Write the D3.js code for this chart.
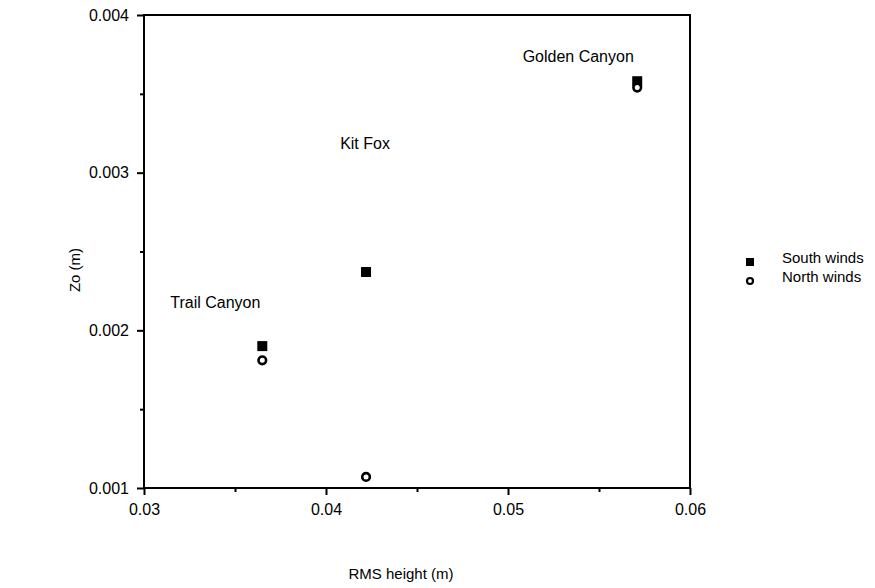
<!DOCTYPE html>
<html>
<head>
<meta charset="utf-8">
<script src="https://cdn.jsdelivr.net/npm/d3@7"></script>
<style>
  html, body { margin: 0; padding: 0; background: #fff; }
  svg { display: block; font-family: "Liberation Sans", Arial, Helvetica, sans-serif; }
</style>
</head>
<body>
<svg id="chart" width="875" height="588"></svg>
<script>
// ---- data ----
const sites = ["Trail Canyon", "Kit Fox", "Golden Canyon"];
const rmsHeight = [0.0365, 0.0422, 0.0571];
const southZo = [0.00190, 0.00237, 0.00358];
const northZo = [0.00181, 0.00107, 0.00354];
const xTicks = [0.03, 0.04, 0.05, 0.06];
const xMinorTicks = [0.035, 0.045, 0.055];
const yTicks = [0.001, 0.002, 0.003, 0.004];
const yMinorTicks = [0.0015, 0.0025, 0.0035];
const seriesNames = ["South winds", "North winds"];

(function () {
// ---- layout ----
const svg = d3.select("#chart");
const pL = 144, pR = 690, pT = 15, pB = 488;
const x = d3.scaleLinear().domain([0.03, 0.06]).range([pL, pR]);
const y = d3.scaleLinear().domain([0.001, 0.004]).range([pB, pT]);
const fs = 16;

// label offsets relative to the south-wind marker
const labelOffsets = [[-47, -38], [-1, -123], [-59, -19]];

// frame
svg.append("rect")
  .attr("x", pL).attr("y", pT)
  .attr("width", pR - pL).attr("height", pB - pT)
  .attr("fill", "none").attr("stroke", "#000").attr("stroke-width", 2);

// x axis
const xAxis = d3.axisBottom(x).tickValues(xTicks).tickFormat(d3.format(".2f"))
  .tickSize(7).tickPadding(9);
const gx = svg.append("g").attr("transform", `translate(0,${pB})`).call(xAxis);
gx.select(".domain").remove();
gx.selectAll(".tick line").attr("stroke-width", 2);
gx.selectAll("text").attr("font-size", fs).attr("font-family", "Liberation Sans, Arial, sans-serif").attr("fill", "#000");

const xMinor = d3.axisBottom(x).tickValues(xMinorTicks).tickFormat("").tickSize(4);
const gxm = svg.append("g").attr("transform", `translate(0,${pB})`).call(xMinor);
gxm.select(".domain").remove();
gxm.selectAll(".tick line").attr("stroke-width", 2);

// y axis
const yAxis = d3.axisLeft(y).tickValues(yTicks).tickFormat(d3.format(".3f"))
  .tickSize(7).tickPadding(8);
const gy = svg.append("g").attr("transform", `translate(${pL},0)`).call(yAxis);
gy.select(".domain").remove();
gy.selectAll(".tick line").attr("stroke-width", 2);
gy.selectAll("text").attr("font-size", fs).attr("font-family", "Liberation Sans, Arial, sans-serif").attr("fill", "#000");

const yMinor = d3.axisLeft(y).tickValues(yMinorTicks).tickFormat("").tickSize(4);
const gym = svg.append("g").attr("transform", `translate(${pL},0)`).call(yMinor);
gym.select(".domain").remove();
gym.selectAll(".tick line").attr("stroke-width", 2);

// axis titles
svg.append("text").attr("x", 401).attr("y", 579)
  .attr("text-anchor", "middle").attr("font-size", fs - 1).text("RMS height (m)");
svg.append("text").attr("transform", "translate(80,270) rotate(-90)")
  .attr("text-anchor", "middle").attr("font-size", fs - 1).text("Zo (m)");

// points
const idx = d3.range(sites.length);
const sq = 10;
svg.append("g").selectAll("rect").data(idx).join("rect")
  .attr("x", i => x(rmsHeight[i]) - sq / 2)
  .attr("y", i => y(southZo[i]) - sq / 2)
  .attr("width", sq).attr("height", sq).attr("fill", "#000");

svg.append("g").selectAll("circle").data(idx).join("circle")
  .attr("cx", i => x(rmsHeight[i]))
  .attr("cy", i => y(northZo[i]))
  .attr("r", 3.8).attr("fill", "#fff").attr("stroke", "#000").attr("stroke-width", 2.6);

// site labels
svg.append("g").selectAll("text").data(idx).join("text")
  .attr("x", i => x(rmsHeight[i]) + labelOffsets[i][0])
  .attr("y", i => y(southZo[i]) + labelOffsets[i][1])
  .attr("text-anchor", "middle").attr("font-size", fs).text(i => sites[i]);

// legend
const lg = svg.append("g").attr("transform", "translate(750,262)");
lg.append("rect").attr("x", -4).attr("y", -4).attr("width", 8).attr("height", 8).attr("fill", "#000");
lg.append("circle").attr("cx", 0).attr("cy", 19).attr("r", 3).attr("fill", "#fff")
  .attr("stroke", "#000").attr("stroke-width", 2.2);
lg.selectAll("text.lt").data(seriesNames).join("text").attr("class", "lt")
  .attr("x", 32).attr("y", (d, i) => 1 + i * 19)
  .attr("font-size", fs - 1).text(d => d);
})();
</script>
</body>
</html>
